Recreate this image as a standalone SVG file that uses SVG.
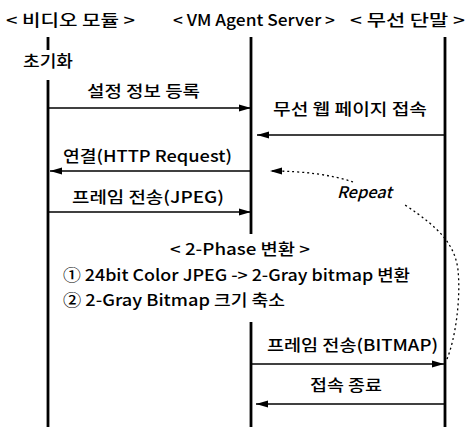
<svg xmlns="http://www.w3.org/2000/svg" width="470" height="427" viewBox="0 0 470 427">
<defs>
<marker id="ah" markerUnits="userSpaceOnUse" markerWidth="12" markerHeight="8" refX="12" refY="4" orient="auto">
<path d="M0,0.5 L12,4 L0,7.5 Z" fill="#000"/>
</marker>
</defs>
<style>
text{font-family:"Noto Sans CJK KR","Noto Sans",sans-serif;font-size:16px;font-weight:500;fill:#000}
.life{stroke:#000;stroke-width:2.8;fill:none}
.msg{stroke:#000;stroke-width:1.6;fill:none;marker-end:url(#ah)}
.rep{stroke:#000;stroke-width:1.3;fill:none;stroke-dasharray:2 3}
</style>
<rect width="470" height="427" fill="#fff"/>
<g id="video-module">
<text x="6" y="26" textLength="129" lengthAdjust="spacingAndGlyphs">&lt; 비디오 모듈 &gt;</text>
<line class="life" x1="48" y1="37" x2="48" y2="50" stroke-width="2"/>
<text x="23" y="67" textLength="50" lengthAdjust="spacingAndGlyphs">초기화</text>
<line class="life" x1="48" y1="80" x2="48" y2="427"/>
</g>
<g id="vm-agent-server">
<text x="173" y="26" textLength="162" lengthAdjust="spacingAndGlyphs">&lt; VM Agent Server &gt;</text>
<line class="life" x1="251" y1="37" x2="251" y2="234"/>
<line class="life" x1="251" y1="322" x2="251" y2="427"/>
</g>
<g id="wireless-terminal">
<text x="350" y="26" textLength="115" lengthAdjust="spacingAndGlyphs">&lt; 무선 단말 &gt;</text>
<line class="life" x1="445" y1="37" x2="445" y2="427" stroke-width="3.2"/>
</g>
<g id="phase">
<text x="170" y="255" textLength="140" lengthAdjust="spacingAndGlyphs">&lt; 2-Phase 변환 &gt;</text>
<text x="63" y="281" textLength="347" lengthAdjust="spacingAndGlyphs">① 24bit Color JPEG -&gt; 2-Gray bitmap 변환</text>
<text x="63" y="306" textLength="222" lengthAdjust="spacingAndGlyphs">② 2-Gray Bitmap 크기 축소</text>
</g>
<g id="connectors">
<line class="msg" x1="48" y1="108" x2="251" y2="108"/>
<text x="87" y="97" textLength="113" lengthAdjust="spacingAndGlyphs">설정 정보 등록</text>
<line class="msg" x1="445" y1="135" x2="257" y2="135"/>
<text x="273" y="115" textLength="154" lengthAdjust="spacingAndGlyphs">무선 웹 페이지 접속</text>
<line class="msg" x1="251" y1="171" x2="50" y2="171"/>
<text x="63" y="162" textLength="169" lengthAdjust="spacingAndGlyphs">연결(HTTP Request)</text>
<line class="msg" x1="48" y1="212" x2="251" y2="212"/>
<text x="72" y="203" textLength="152" lengthAdjust="spacingAndGlyphs">프레임 전송(JPEG)</text>
<line class="msg" x1="251" y1="364" x2="444" y2="364"/>
<text x="267" y="351" textLength="171" lengthAdjust="spacingAndGlyphs">프레임 전송(BITMAP)</text>
<line class="msg" x1="445" y1="404" x2="256" y2="404"/>
<text x="310" y="391" textLength="72" lengthAdjust="spacingAndGlyphs">접속 종료</text>
<path class="rep" d="M447,359 C455,340 461,300 458,270 C455,245 440,228 405,205"/>
<path class="rep" d="M353,182 Q320,171 270,171" marker-end="url(#ah)"/>
<text x="337" y="198" font-style="italic" textLength="55" lengthAdjust="spacingAndGlyphs">Repeat</text>
</g>
</svg>
